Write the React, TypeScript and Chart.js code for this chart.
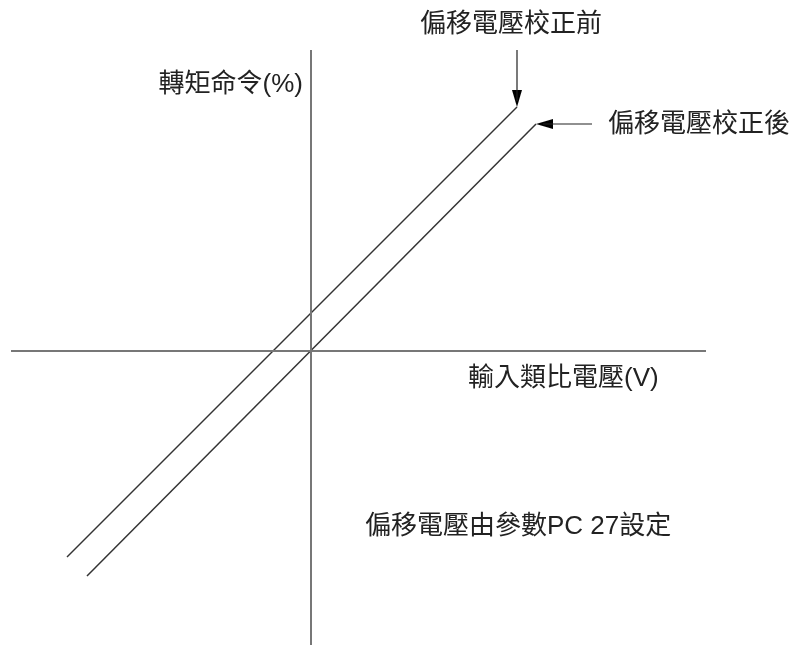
import React, { useEffect, useRef } from "react";
import { Chart, registerables } from "chart.js";

Chart.register(...registerables);

// Axis lines (data units)
const hAxisX = [-30, 39.5];
const hAxisY = [0, 0];
const vAxisX = [0, 0];
const vAxisY = [30.1, -29.4];

// Characteristic lines
const beforeX = [-24.4, 20.6];
const beforeY = [-20.6, 24.4];
const afterX = [-22.4, 22.5];
const afterY = [-22.5, 22.7];

// Arrow shafts
const arrow1X = [20.6, 20.6];
const arrow1Y = [30.1, 25.0];
const arrow2X = [28.1, 23.2];
const arrow2Y = [22.7, 22.7];

// Arrow tips
const tipX = [20.6, 22.5];
const tipY = [24.4, 22.7];
const tipRotation = [0, 90];

// Text labels
const labelTexts = [
  "偏移電壓校正前",
  "偏移電壓校正後",
  "轉矩命令(%)",
  "輸入類比電壓(V)",
  "偏移電壓由參數PC 27設定",
];
const labelX = [20.0, 29.7, -0.8, 15.7, 5.4];
const labelY = [32.6, 22.6, 26.6, -2.8, -17.6];
const labelAlign = ["center", "left", "right", "left", "left"];

const pts = (xs: number[], ys: number[]) => xs.map((x, i) => ({ x, y: ys[i] }));

function makeArrowHead(): HTMLCanvasElement {
  const c = document.createElement("canvas");
  c.width = 10;
  c.height = 34;
  const g = c.getContext("2d")!;
  g.fillStyle = "#000";
  g.beginPath();
  g.moveTo(0, 0);
  g.lineTo(10, 0);
  g.lineTo(5, 17);
  g.closePath();
  g.fill();
  return c;
}

const labelPlugin = {
  id: "labels",
  afterDatasetsDraw(chart: any) {
    const { ctx, scales } = chart;
    ctx.save();
    ctx.fillStyle = "#222";
    ctx.font = '26px "Liberation Sans", "Noto Sans CJK TC", sans-serif';
    ctx.textBaseline = "middle";
    labelTexts.forEach((t, i) => {
      ctx.textAlign = labelAlign[i];
      ctx.fillText(t, scales.x.getPixelForValue(labelX[i]), scales.y.getPixelForValue(labelY[i]));
    });
    ctx.restore();
  },
};

export default function App() {
  const ref = useRef<HTMLCanvasElement>(null);
  useEffect(() => {
    const head = makeArrowHead();
    const lineDs = (data: any, color: string, width: number) => ({
      data,
      showLine: true,
      borderColor: color,
      borderWidth: width,
      pointRadius: 0,
      fill: false,
      tension: 0,
    });
    const chart = new Chart(ref.current!, {
      type: "scatter",
      data: {
        datasets: [
          lineDs(pts(hAxisX, hAxisY), "#777", 2),
          lineDs(pts(vAxisX, vAxisY), "#777", 2),
          lineDs(pts(beforeX, beforeY), "#333", 1.5),
          lineDs(pts(afterX, afterY), "#333", 1.5),
          lineDs(pts(arrow1X, arrow1Y), "#222", 1.2),
          lineDs(pts(arrow2X, arrow2Y), "#222", 1.2),
          {
            data: pts(tipX, tipY),
            showLine: false,
            pointStyle: head,
            pointRadius: 5,
            pointRotation: tipRotation,
          } as any,
        ],
      },
      options: {
        responsive: false,
        animation: false,
        devicePixelRatio: 1,
        layout: { padding: 0, autoPadding: false },
        plugins: { legend: { display: false }, tooltip: { enabled: false } },
        events: [],
        scales: {
          x: { type: "linear", min: -31.1, max: 48.4, display: false },
          y: { type: "linear", min: -29.7, max: 35.1, display: false },
        },
      },
      plugins: [labelPlugin],
    });
    return () => chart.destroy();
  }, []);
  return (
    <div style={{ position: "absolute", left: 0, top: 0, width: 795, height: 648, background: "#fff" }}>
      <canvas ref={ref} width={795} height={648} />
    </div>
  );
}
